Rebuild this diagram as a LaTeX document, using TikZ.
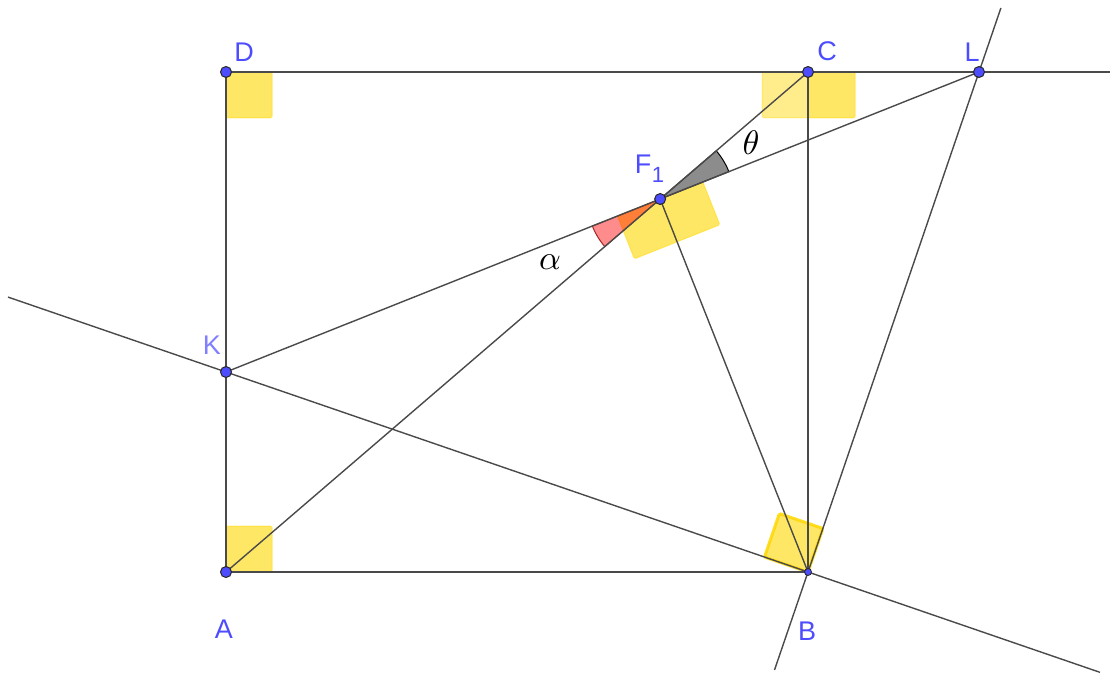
\documentclass[tikz,border=0pt]{standalone}
\usepackage{fontspec}
\newfontfamily\lab{Liberation Sans}
\usetikzlibrary{calc}
\definecolor{gline}{HTML}{4A4A4A}
\definecolor{ptblue}{HTML}{4D4DFF}
\definecolor{ptlight}{HTML}{7F7FFF}
\definecolor{gold}{RGB}{255,215,0}
\tikzset{
  ln/.style={gline, line width=1.4pt},
  pt/.style={circle, fill=ptblue, draw=black!85, line width=1pt, inner sep=0pt, minimum size=11pt},
  smallpt/.style={circle, fill=ptblue, draw=black!85, line width=0.8pt, inner sep=0pt, minimum size=7pt},
  lbl/.style={text=ptblue, font=\lab\fontsize{27}{27}\selectfont, inner sep=0pt},
  rmark/.style={fill=gold, fill opacity=0.6, draw=gold, draw opacity=0.5, line width=1pt, rounded corners=1.5pt},
  rmarklight/.style={fill=gold, fill opacity=0.45, draw=gold, draw opacity=0.35, line width=1pt, rounded corners=1.5pt},
  rmarkthick/.style={fill=gold, fill opacity=0.6, draw=gold, draw opacity=0.85, line width=3pt, rounded corners=1.5pt},
  redwedge/.style={fill=red, fill opacity=0.45, draw=red!55!black, draw opacity=0.8, line width=1pt},
  greywedge/.style={fill=black, fill opacity=0.45, draw=black, line width=1pt},
  mathlbl/.style={inner sep=0pt}
}
\begin{document}
\begin{tikzpicture}[x=1pt,y=1pt]
\useasboundingbox (0,0) rectangle (1110,673);
\coordinate (A) at (226,101);
\coordinate (B) at (808,101);
\coordinate (C) at (808,601);
\coordinate (D) at (226,601);
\coordinate (K) at (226,301);
\coordinate (L) at (979,601);
\coordinate (F) at (intersection of A--C and K--L);
\coordinate (KBa) at ($(K)!-0.3746!(B)$);
\coordinate (KBb) at ($(K)!1.5017!(B)$);
\coordinate (BLa) at ($(B)!-0.196!(L)$);
\coordinate (BLb) at ($(B)!1.128!(L)$);
\coordinate (Hr) at (1110,601);

% right-angle marks
\def\s{46pt}
\path[rmark] (A) rectangle ++(46,46);
\path[rmark] (D) rectangle ++(46,-46);
\path[rmarklight] (C) rectangle ++(-46,-46);
\path[rmark] (C) rectangle ++(47,-46);
% at B
\coordinate (bu) at ($(B)!\s!(K)$);
\coordinate (bv) at ($(B)!\s!(L)$);
\path[rmarkthick] (B) -- (bu) -- ($(bu)+(bv)-(B)$) -- (bv) -- cycle;
% at F1
\coordinate (fk) at ($(F)!\s!(K)$);
\coordinate (fb) at ($(F)!\s!(B)$);
\coordinate (fl) at ($(F)!\s!(L)$);
\path[rmark] (F) -- (fk) -- ($(fk)+(fb)-(F)$) -- (fb) -- cycle;
\path[rmark] (F) -- (fb) -- ($(fb)+(fl)-(F)$) -- (fl) -- cycle;

% angle wedges
\path[redwedge] (F) -- ++(201.72:73pt) arc[start angle=201.72, end angle=220.67, radius=73pt] -- cycle;
\path[greywedge] (F) -- ++(21.72:74pt) arc[start angle=21.72, end angle=40.67, radius=74pt] -- cycle;

% lines
\draw[ln] (D) -- (Hr);
\draw[ln] (D) -- (A);
\draw[ln] (A) -- (B);
\draw[ln] (B) -- (C);
\draw[ln] (A) -- (C);
\draw[ln] (K) -- (L);
\draw[ln] (F) -- (B);
\draw[ln] (KBa) -- (KBb);
\draw[ln] (BLa) -- (BLb);

% points
\node[pt] (pA) at (A) {};
\node[smallpt] (pB) at (B) {};
\node[pt] (pC) at (C) {};
\node[pt] (pD) at (D) {};
\node[pt] (pK) at (K) {};
\node[pt] (pL) at (L) {};
\node[pt] (pF) at (F) {};

% labels
\node[lbl] (lD) at (244,621) {D};
\node[lbl] (lC) at (827,622) {C};
\node[lbl] (lL) at (972,621) {L};
\node[lbl, text=ptlight] (lK) at (212,328) {K};
\node[lbl] (lA) at (224,44) {A};
\node[lbl] (lB) at (807,42) {B};
\node[lbl] (lF) at (643,509) {F};
\node[lbl, font=\lab\fontsize{22}{22}\selectfont] (lF1) at (658,498) {1};
\node[mathlbl] (alpha) at (550,411) {\scalebox{3.4}{$\alpha$}};
\node[mathlbl] (theta) at (751,530) {\scalebox{3.4}{$\theta$}};
\end{tikzpicture}
\end{document}
